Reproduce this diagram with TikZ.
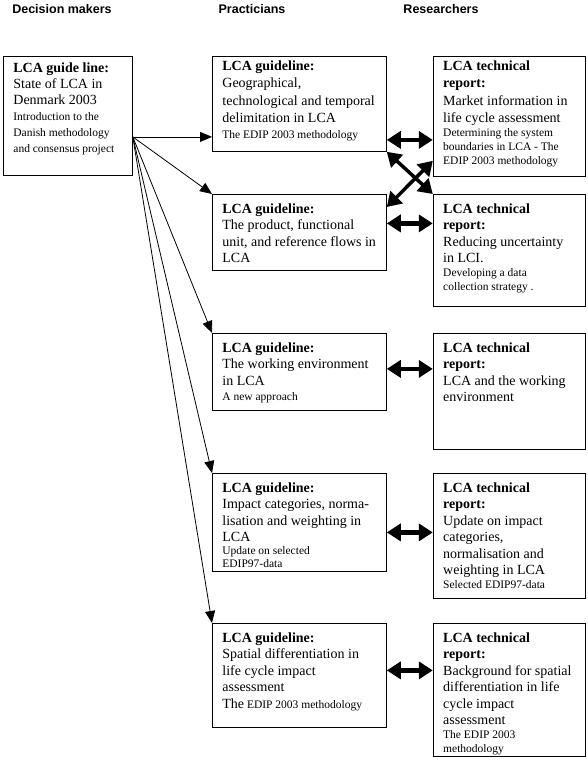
\documentclass[tikz,border=0pt]{standalone}
\usepackage{fontspec}
\setmainfont{Liberation Serif}
\setsansfont{Liberation Sans}
\usepackage{tikz}
\usetikzlibrary{arrows.meta,positioning,calc}
\definecolor{ink}{HTML}{000000}
\newcommand{\linesp}[1]{\fontsize{14}{#1}\selectfont}
\newcommand{\notesz}{\fontsize{11.5}{14}\selectfont}
% width, height, top padding, text
\newcommand{\boxtext}[4]{\parbox[t][\dimexpr#2pt-8pt\relax][t]{\dimexpr#1pt-20pt\relax}{%
  \raggedright\linesp{16.5}\vspace*{#3pt}#4}}

\begin{document}
\begin{tikzpicture}[x=1pt,y=-1pt,
  head/.style={font=\sffamily\bfseries\fontsize{12.5}{14}\selectfont,text=ink},
  box/.style={draw=ink,line width=0.8pt,fill=white,inner xsep=10pt,inner ysep=4pt,
              anchor=north west,text=ink},
  feed/.style={-{Triangle[length=12pt,width=10pt]},line width=0.8pt,draw=ink},
  link/.style={{Triangle[length=14pt,width=17pt]}-{Triangle[length=14pt,width=17pt]},
               line width=4.5pt,draw=ink},
  cross/.style={link,line width=3.5pt}]

  \useasboundingbox[fill=white] (0,0) rectangle (587,766);

  % column heads
  \node[head] (hdm) at (62,9) {Decision makers};
  \node[head] (hpr) at (252,9) {Practicians};
  \node[head] (hre) at (441,9) {Researchers};

  % decision makers
  \node[box] (dm) at (3,56) {\boxtext{129}{119}{2}{\linesp{16}\textbf{LCA guide line:}\\
    State of LCA in\\ Denmark 2003\par
    \notesz\baselineskip=16pt Introduction to the\\ Danish methodology\\ and consensus project}};

  % practicians
  \node[box] (g1) at (212,56) {\boxtext{174}{95}{0}{\linesp{17.5}\textbf{LCA guideline:}\\
    Geographical,\\ technological and temporal\\ delimitation in LCA\par
    \vspace{2pt}\notesz The EDIP 2003 methodology}};
  \node[box] (g2) at (212,194) {\boxtext{174}{76}{5}{\textbf{LCA guideline:}\\
    The product, functional\\ unit, and reference flows in\\ LCA}};
  \node[box] (g3) at (212,333) {\boxtext{174}{77}{5}{\textbf{LCA guideline:}\\
    The working environment\\ in LCA\par
    \vspace{1pt}\notesz A new approach}};
  \node[box] (g4) at (212,473) {\boxtext{174}{98}{5}{\textbf{LCA guideline:}\\
    Impact categories, norma-\\ lisation and weighting in\\ LCA\par
    \notesz\baselineskip=13pt Update on selected\\ EDIP97-data}};
  \node[box] (g5) at (212,623) {\boxtext{174}{104}{5}{\textbf{LCA guideline:}\\
    Spatial differentiation in\\ life cycle impact\\ assessment\par
    \vspace{3pt}\notesz{\linesp{14}The} EDIP 2003 methodology}};

  % researchers
  \node[box,right=46pt of g1.north east,anchor=north west] (r1) {\boxtext{152}{120}{0}{%
    \linesp{17.5}\textbf{LCA technical}\\ \textbf{report:}\\
    Market information in\\ life cycle assessment\par
    \notesz Determining the system\\ boundaries in LCA - The\\ EDIP 2003 methodology}};
  \node[box,right=46pt of g2.north east,anchor=north west] (r2) {\boxtext{152}{112}{5}{%
    \textbf{LCA technical}\\ \textbf{report:}\\
    Reducing uncertainty\\ in LCI.\par
    \notesz Developing a data\\ collection strategy .}};
  \node[box,right=46pt of g3.north east,anchor=north west] (r3) {\boxtext{152}{116}{5}{%
    \textbf{LCA technical}\\ \textbf{report:}\\
    LCA and the working\\ environment}};
  \node[box,right=46pt of g4.north east,anchor=north west] (r4) {\boxtext{152}{125}{5}{%
    \textbf{LCA technical}\\ \textbf{report:}\\
    Update on impact\\ categories,\\ normalisation and\\ weighting in LCA\par
    \notesz Selected EDIP97-data}};
  \node[box,right=46pt of g5.north east,anchor=north west] (r5) {\boxtext{152}{133}{5}{%
    \textbf{LCA technical}\\ \textbf{report:}\\
    Background for spatial\\ differentiation in life\\ cycle impact\\ assessment\par
    \notesz The EDIP 2003\\ methodology}};

  % fan of guideline arrows
  \coordinate (fan) at ([yshift=-21pt]dm.east);
  \draw[feed] (fan) -- (fan -| g1.west);
  \draw[feed] (fan) -- (g2.north west);
  \draw[feed] (fan) -- (g3.north west);
  \draw[feed] (fan) -- (g4.north west);
  \draw[feed] (fan) -- (g5.north west);

  % links between guidelines and reports
  \draw[link] ([yshift=-36pt]g1.east) -- ([yshift=-36pt]g1.east -| r1.west);
  \draw[link] ([yshift=9pt]g2.east) -- ([yshift=9pt]g2.east -| r2.west);
  \draw[link] ([yshift=3pt]g3.east) -- ([yshift=3pt]g3.east -| r3.west);
  \draw[link] ([yshift=-10pt]g4.east) -- ([yshift=-10pt]g4.east -| r4.west);
  \draw[link] ([yshift=5pt]g5.east) -- ([yshift=5pt]g5.east -| r5.west);
  \draw[cross] (g1.south east) -- (r2.north west);
  \draw[cross] ([yshift=-13pt]g2.north east) -- ([yshift=16pt]r1.south west);
\end{tikzpicture}
\end{document}
